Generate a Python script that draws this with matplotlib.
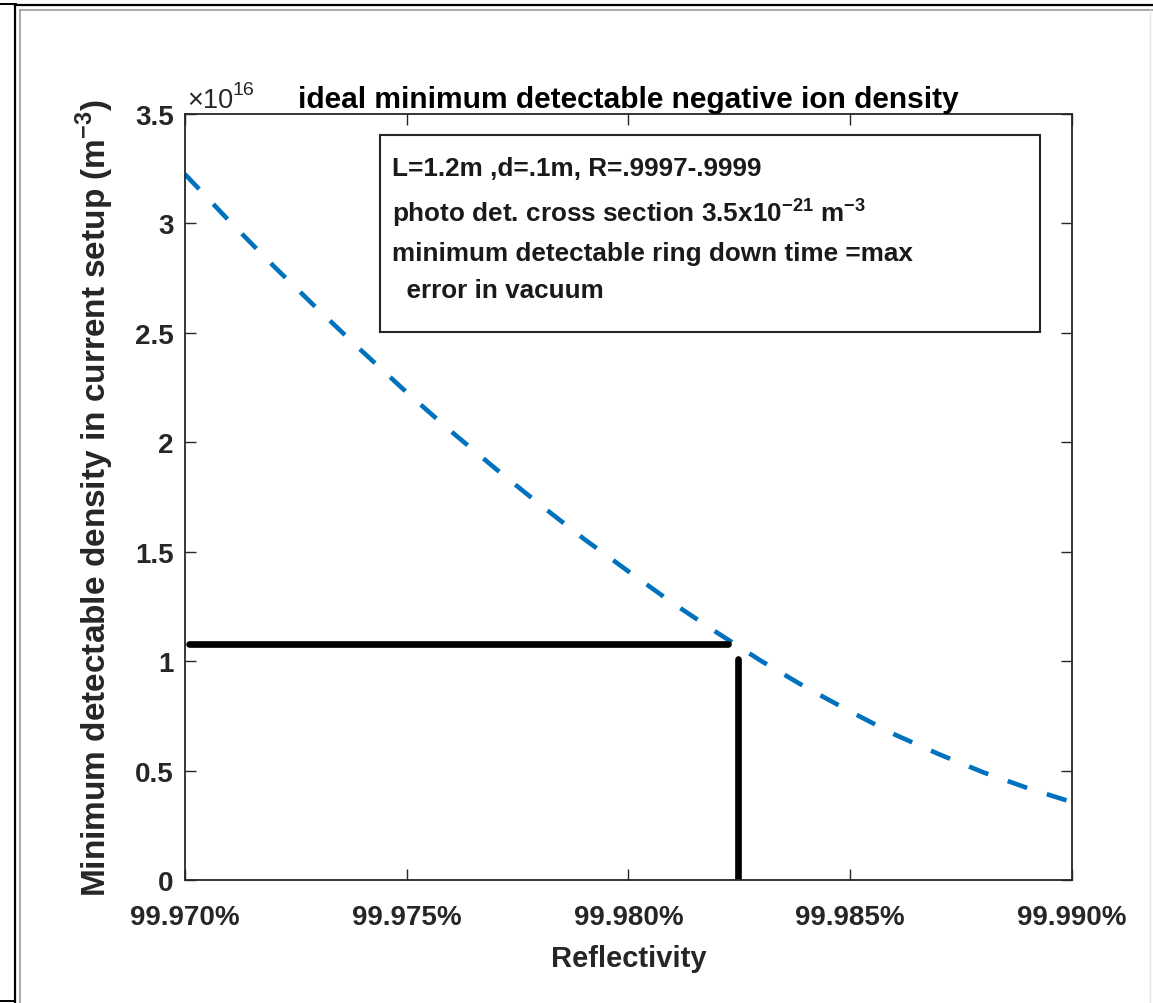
import numpy as np
import matplotlib.pyplot as plt
from matplotlib.patches import Rectangle
from matplotlib.lines import Line2D

plt.rcParams['font.family'] = ['Liberation Sans', 'DejaVu Sans']
plt.rcParams['font.weight'] = 'bold'
plt.rcParams['mathtext.fontset'] = 'custom'
plt.rcParams['mathtext.rm'] = 'Liberation Sans'
plt.rcParams['mathtext.bf'] = 'Liberation Sans:bold'

# reflectivity (fraction) and density, in units of 1e16 m^-3
reflectivity = [0.99970, 0.99971, 0.99972, 0.99973, 0.99974, 0.99975, 0.99976,
                0.99977, 0.99978, 0.99979, 0.99980, 0.99981, 0.99982, 0.99983,
                0.99984, 0.99985, 0.99986, 0.99987, 0.99988, 0.99989, 0.99990]
density_1e16 = [3.225, 3.011, 2.805, 2.607, 2.415, 2.228, 2.050, 1.880, 1.716, 1.558,
                1.410, 1.265, 1.130, 1.000, 0.880, 0.770, 0.665, 0.575, 0.492, 0.420, 0.356]

# black guide lines (horizontal level and vertical drop)
guide_h_x = [0.999701, 0.9998225]
guide_h_y = [1.08, 1.08]
guide_v_x = [0.9998247, 0.9998247]
guide_v_y = [1.01, 0.0]

xticks = [0.99970, 0.99975, 0.99980, 0.99985, 0.99990]
xticklabels = ['99.970%', '99.975%', '99.980%', '99.985%', '99.990%']
yticks = [0, 0.5, 1, 1.5, 2, 2.5, 3, 3.5]
yticklabels = ['0', '0.5', '1', '1.5', '2', '2.5', '3', '3.5']

box_lines = ['L=1.2m ,d=.1m, R=.9997-.9999',
             r'photo det. cross section 3.5x10$^{\mathbf{-21}}$ m$^{\mathbf{-3}}$',
             'minimum detectable ring down time =max',
             '  error in vacuum']

fig = plt.figure(figsize=(11.53, 10.04), dpi=100)
ax = fig.add_axes([0.1604, 0.1225, 0.7693, 0.763])

ax.plot(reflectivity, density_1e16, color='#0072BD', lw=3.3, dashes=(4.5, 4.5),
        solid_capstyle='butt', dash_capstyle='butt')
ax.plot(guide_h_x, guide_h_y, color='black', lw=4.8, solid_capstyle='round')
ax.plot(guide_v_x, guide_v_y, color='black', lw=4.8, solid_capstyle='round')

ax.set_xlim(0.99970, 0.99990)
ax.set_ylim(0, 3.5)
ax.set_xticks(xticks)
ax.set_xticklabels(xticklabels)
ax.set_yticks(yticks)
ax.set_yticklabels(yticklabels)
ax.tick_params(direction='in', length=8, width=1, top=True, right=True,
               labelsize=20, colors='#262626')
ax.tick_params(axis='x', pad=17)
ax.tick_params(axis='y', pad=8)
for s in ax.spines.values():
    s.set_color('#262626')
    s.set_linewidth(1.3)

ax.set_xlabel('Reflectivity', fontsize=21, fontweight='bold', color='#262626', labelpad=10)
ax.set_ylabel(r'Minimum detectable density in current setup (m$^{\mathbf{-3}}$)',
              fontsize=24, fontweight='bold', color='#262626', labelpad=14)
ax.set_title('ideal minimum detectable negative ion density', fontsize=21.5,
             fontweight='bold', color='#000000', pad=5)
ax.text(0.002, 1.009, '\u00d710', transform=ax.transAxes, fontsize=19.5,
        fontweight='normal', color='#262626', ha='left', va='baseline')
ax.text(0.054, 1.026, '16', transform=ax.transAxes, fontsize=14,
        fontweight='normal', color='#262626', ha='left', va='baseline')

# annotation box
ax.add_patch(Rectangle((0.2198, 0.7154), 0.7442, 0.2572, transform=ax.transAxes,
                       fill=False, edgecolor='#262626', lw=1.5, zorder=5))
line_y = [0.930, 0.872, 0.818, 0.770]
for txt, yy in zip(box_lines, line_y):
    ax.text(0.233, yy, txt, transform=ax.transAxes, fontsize=18.8,
            fontweight='bold', color='#1a1a1a', ha='left', va='center')

# outer frame of the original figure
fig.add_artist(Line2D([0.013, 1.0], [0.994, 0.994], color='black', lw=1.6))
fig.add_artist(Line2D([0.0, 0.014], [0.9955, 0.9955], color='black', lw=1.4))
fig.add_artist(Line2D([0.017, 1.0], [0.989, 0.989], color='#999999', lw=1.2))
fig.add_artist(Line2D([0.013, 0.013], [0.0, 0.994], color='black', lw=1.6))
fig.add_artist(Line2D([0.017, 0.017], [0.0, 0.989], color='#999999', lw=1.2))
fig.add_artist(Line2D([0.0, 0.013], [0.002, 0.002], color='black', lw=1.4))
fig.add_artist(Line2D([0.9975, 0.9975], [0.0, 0.989], color='#e6e6e6', lw=1.0))

fig.savefig('out.png', dpi=100)
